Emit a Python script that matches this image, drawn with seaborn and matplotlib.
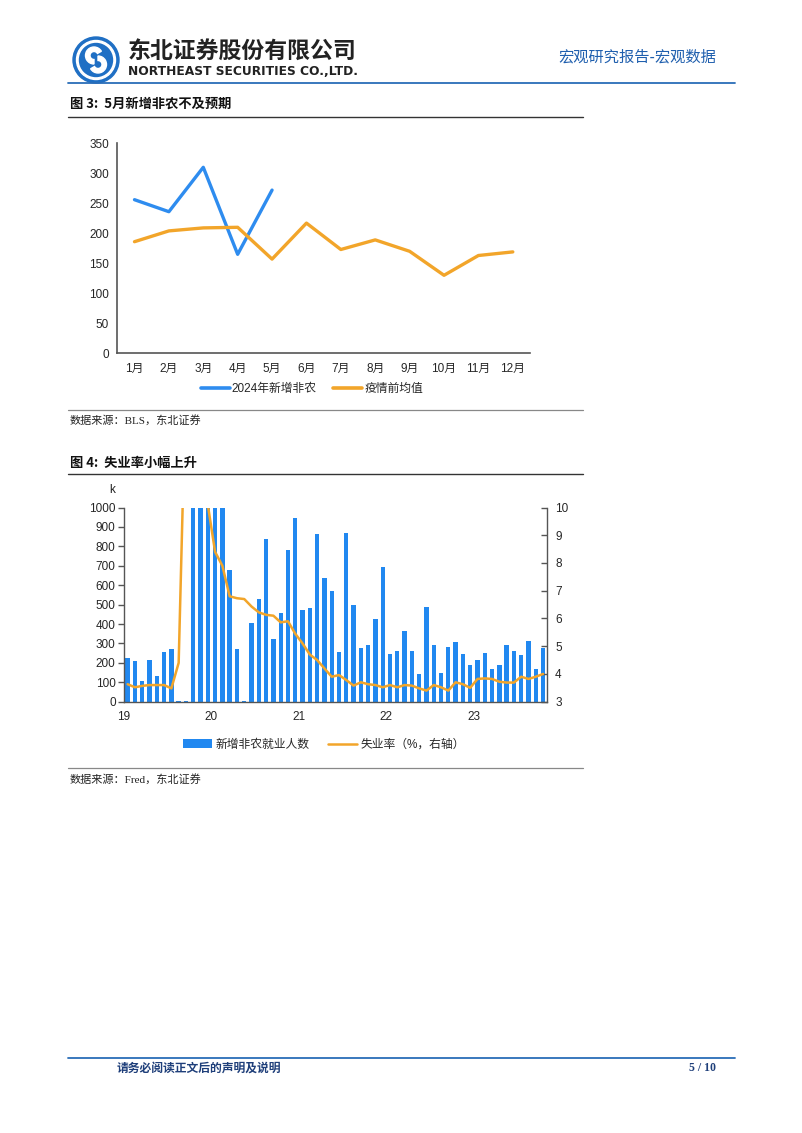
import numpy as np
import matplotlib
matplotlib.use("Agg")
import matplotlib.pyplot as plt
import seaborn as sns
from matplotlib.patches import Patch, Circle, Wedge
from matplotlib.lines import Line2D

# ---------------- data ----------------
months = ["1月", "2月", "3月", "4月", "5月", "6月", "7月", "8月", "9月", "10月", "11月", "12月"]
nfp_2024 = [256, 236, 310, 165, 272]
pre_covid_avg = [186, 204, 209, 210, 157, 217, 173, 189, 170, 130, 163, 169]

nfp_monthly = [227, 208, 105, 213, 131, 258, 270, 5, 5, 1000, 1000, 1000, 1000, 1000,
               677, 271, 5, 404, 531, 838, 323, 455, 783, 945, 471, 485, 864, 636,
               570, 258, 868, 498, 277, 290, 424, 696, 246, 259, 366, 263, 141, 486,
               292, 149, 282, 308, 244, 189, 216, 253, 170, 187, 294, 263, 242, 314,
               170, 277]
unemp_rate = [3.63, 3.52, 3.57, 3.6, 3.6, 3.6, 3.48, 4.4, 14.7, 13.2, 11.0, 10.1, 8.4, 7.9,
              6.8, 6.73, 6.7, 6.43, 6.22, 6.13, 6.1, 5.86, 5.9, 5.45, 5.1, 4.7, 4.5, 4.2,
              3.9, 3.96, 3.78, 3.58, 3.7, 3.63, 3.6, 3.52, 3.6, 3.52, 3.6, 3.58, 3.48, 3.4,
              3.6, 3.52, 3.4, 3.7, 3.63, 3.5, 3.82, 3.84, 3.82, 3.72, 3.69, 3.69, 3.9, 3.82,
              3.9, 4.0]
year_labels = ["19", "20", "21", "22", "23"]

# ---------------- style ----------------
sns.set_style("white")
plt.rcParams["font.family"] = ["Liberation Sans", "Noto Sans CJK SC"]
plt.rcParams["axes.unicode_minus"] = False
plt.rcParams["patch.force_edgecolor"] = False

W, H = 802, 1133
fig = plt.figure(figsize=(W / 100, H / 100), dpi=100)


def fx(px):
    return px / W


def fy(py):
    return 1 - py / H


def hline(y, x0, x1, color, lw):
    fig.add_artist(Line2D([fx(x0), fx(x1)], [fy(y), fy(y)], transform=fig.transFigure,
                          color=color, lw=lw))


CJK = ["Noto Sans CJK SC", "DejaVu Sans"]
SRC = ["Liberation Serif", "Noto Sans CJK SC"]
BLUE = "#2188F0"
ORANGE = "#F2A52A"
SPINE = "#555555"

# ---------------- header ----------------
ax_logo = fig.add_axes([fx(70), fy(86), 52 / W, 52 / H])
ax_logo.set_xlim(-26, 26)
ax_logo.set_ylim(-26, 26)
ax_logo.set_aspect("equal")
ax_logo.axis("off")
ax_logo.add_patch(Circle((0, 0), 23, color="#1F6FC4"))
ax_logo.add_patch(Circle((0, 0), 19.5, color="white"))
ax_logo.add_patch(Circle((0, 0), 16.5, color="#1F6FC4"))
ax_logo.add_patch(Wedge((-2, 4.5), 8.5, 30, 270, width=4.5, color="white"))
ax_logo.add_patch(Wedge((2, -4.5), 8.5, 210, 90, width=4.5, color="white"))

fig.text(fx(128), fy(51), "东北证券股份有限公司", fontsize=16.5, fontweight="bold",
         family=CJK, color="#222222", va="center", ha="left")
fig.text(fx(128), fy(71.5), "NORTHEAST SECURITIES CO.,LTD.", fontsize=8.8, fontweight="bold",
         family=["DejaVu Sans"], color="#222222", va="center", ha="left")
fig.text(fx(716), fy(57), "宏观研究报告-宏观数据", fontsize=11, family=CJK,
         color="#1F5FAE", va="center", ha="right")
hline(83, 68, 735, "#2A6DB8", 1.3)

# ---------------- figure 3 ----------------
fig.text(fx(70), fy(104), "图 3:  5月新增非农不及预期", fontsize=9.5, fontweight="bold",
         family=CJK, color="#111111", va="center", ha="left")
hline(116.5, 68, 583, "#333333", 1.0)

ax1 = fig.add_axes([fx(117.3), fy(353.3), (530 - 117.3) / W, (353.3 - 143.3) / H])
x_all = np.arange(len(months))
sns.lineplot(x=x_all[:len(nfp_2024)], y=nfp_2024, ax=ax1, color="#2E8CEF", lw=2.4)
sns.lineplot(x=x_all, y=pre_covid_avg, ax=ax1, color=ORANGE, lw=2.4)
ax1.set_xlim(-0.5, 11.5)
ax1.set_ylim(0, 350)
ax1.set_yticks(range(0, 351, 50))
ax1.set_xticks(np.arange(-0.5, 12, 1))
ax1.set_xticklabels([])
ax1.set_xticks(x_all, minor=True)
ax1.set_xticklabels(months, minor=True)
ax1.tick_params(axis="x", which="major", direction="out", length=4, width=1, color=SPINE)
ax1.tick_params(axis="x", which="minor", length=0, pad=7, labelsize=8.5)
ax1.tick_params(axis="y", direction="out", length=4, width=1, color=SPINE, labelsize=8.5, pad=2)
for s in ["top", "right"]:
    ax1.spines[s].set_visible(False)
for s in ["left", "bottom"]:
    ax1.spines[s].set_color(SPINE)
    ax1.spines[s].set_linewidth(1.2)
ax1.set_xlabel("")
ax1.set_ylabel("")

h1 = [Line2D([], [], color="#2E8CEF", lw=2.6), Line2D([], [], color=ORANGE, lw=2.6)]
fig.legend(h1, ["2024年新增非农", "疫情前均值"], loc="center", bbox_to_anchor=(fx(312), fy(389)),
           ncol=2, frameon=False, fontsize=8.5, handlelength=2.4, handletextpad=0.2,
           columnspacing=1.4)

hline(409.5, 68, 583, "#888888", 0.9)
fig.text(fx(70), fy(420), "数据来源：BLS，东北证券", fontsize=8, family=SRC,
         color="#222222", va="center", ha="left")

# ---------------- figure 4 ----------------
fig.text(fx(70), fy(463), "图 4:  失业率小幅上升", fontsize=9.5, fontweight="bold",
         family=CJK, color="#111111", va="center", ha="left")
hline(473.5, 68, 583, "#333333", 1.0)

ax2 = fig.add_axes([fx(124), fy(701.7), (546.7 - 124) / W, (701.7 - 507.5) / H])
idx = np.arange(len(nfp_monthly))
sns.barplot(x=idx, y=nfp_monthly, ax=ax2, color=BLUE, saturation=1, width=0.6,
            edgecolor="none", linewidth=0)
ax2.set_ylim(0, 1000)
ax2.set_yticks(range(0, 1001, 100))
ax2r = ax2.twinx()
sns.lineplot(x=idx, y=unemp_rate, ax=ax2r, color=ORANGE, lw=1.8)
ax2r.set_ylim(3, 10)
ax2r.set_yticks(range(3, 11))
ax2.set_xlim(-0.5, len(nfp_monthly) - 0.5)
ax2r.set_xlim(-0.5, len(nfp_monthly) - 0.5)
ax2.set_xticks(np.arange(-0.5, len(nfp_monthly), 12))
ax2.set_xticklabels(year_labels)
ax2.tick_params(axis="x", direction="out", length=3, width=1, color=SPINE, labelsize=8.5, pad=4)
ax2.tick_params(axis="y", direction="out", length=4, width=1, color=SPINE, labelsize=8.5, pad=2)
ax2r.tick_params(axis="y", direction="in", length=4, width=1, color=SPINE, labelsize=8.5, pad=6)
for a in (ax2, ax2r):
    a.spines["top"].set_visible(False)
    for s in ["left", "right", "bottom"]:
        a.spines[s].set_color(SPINE)
        a.spines[s].set_linewidth(1.0)
    a.set_xlabel("")
    a.set_ylabel("")
ax2.spines["right"].set_visible(False)
ax2r.spines["left"].set_visible(False)
ax2r.spines["bottom"].set_visible(False)

fig.text(fx(112), fy(490), "k", fontsize=8.5, color="#222222", va="center", ha="center")

h2 = [Patch(facecolor=BLUE, edgecolor="none"), Line2D([], [], color=ORANGE, lw=1.8)]
fig.legend(h2, ["新增非农就业人数", "失业率（%，右轴）"], loc="center",
           bbox_to_anchor=(fx(324), fy(745)), ncol=2, frameon=False, fontsize=8.5,
           handlelength=2.4, handleheight=0.8, handletextpad=0.3, columnspacing=1.6)

hline(767.5, 68, 583, "#888888", 0.9)
fig.text(fx(70), fy(779), "数据来源：Fred，东北证券", fontsize=8, family=SRC,
         color="#222222", va="center", ha="left")

# ---------------- footer ----------------
hline(1058, 68, 735, "#2A6DB8", 1.3)
fig.text(fx(117), fy(1068), "请务必阅读正文后的声明及说明", fontsize=8.5, fontweight="bold",
         family=CJK, color="#1F3F7A", va="center", ha="left")
fig.text(fx(716), fy(1068), "5 / 10", fontsize=8.5, fontweight="bold",
         family=["Liberation Serif"], color="#1F3F7A", va="center", ha="right")

fig.savefig("out.png", dpi=100, facecolor="white")
